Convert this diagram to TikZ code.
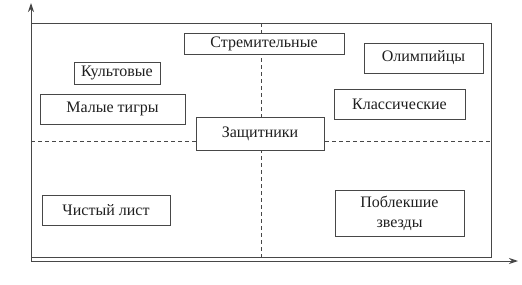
\documentclass[tikz,border=0pt]{standalone}
\usepackage{fontspec}
\setmainfont{Liberation Serif}
\usetikzlibrary{arrows.meta}
\begin{document}
\begin{tikzpicture}[x=1pt,y=-1pt,
  ln/.style={draw=black!72,line width=1pt},
  dsh/.style={draw=black!72,line width=0.9pt,dash pattern=on 4pt off 3pt},
  box/.style={ln,fill=white,inner sep=0pt,font=\fontsize{16}{20}\selectfont,align=center,text=black!88}]
\useasboundingbox (0,0) rectangle (522,284);
\fill[white] (0,0) rectangle (522,284);
% axes
\coordinate (O) at (31,261);
\coordinate (Ytop) at (31,3);
\coordinate (Xend) at (518,261);
\draw[ln,-{Stealth[length=9pt,width=6pt]}] (O) -- (Ytop);
\draw[ln,-{Stealth[length=9pt,width=6pt]}] (O) -- (Xend);
% outer rectangle
\coordinate (R1) at (31,23);
\coordinate (R2) at (491,257);
\draw[ln] (R1) rectangle (R2);
% dashed quadrant lines
\coordinate (VT) at (261,23);
\coordinate (VB) at (261,257);
\coordinate (HL) at (31,141);
\coordinate (HR) at (491,141);
\draw[dsh] (VT) -- (VB);
\draw[dsh] (HL) -- (HR);
% boxes
\node[box,minimum width=160pt,minimum height=21pt] (strem) at (264,43.5) {Стремительные};
\node[box,minimum width=86pt,minimum height=22pt] (kult) at (117,73) {Культовые};
\node[box,minimum width=119pt,minimum height=30pt] (olimp) at (423.5,58) {Олимпийцы};
\node[box,minimum width=145pt,minimum height=30pt] (tigry) at (112.5,109) {Малые тигры};
\node[box,minimum width=131pt,minimum height=30pt] (klass) at (399.5,104) {Классические};
\node[box,minimum width=128pt,minimum height=33pt] (zasch) at (260,133.5) {Защитники};
\node[box,minimum width=128pt,minimum height=30pt] (chist) at (106,210) {Чистый лист};
\node[box,minimum width=129pt,minimum height=46pt] (pobl) at (399.5,213) {Поблекшие\\звезды};
\end{tikzpicture}
\end{document}
